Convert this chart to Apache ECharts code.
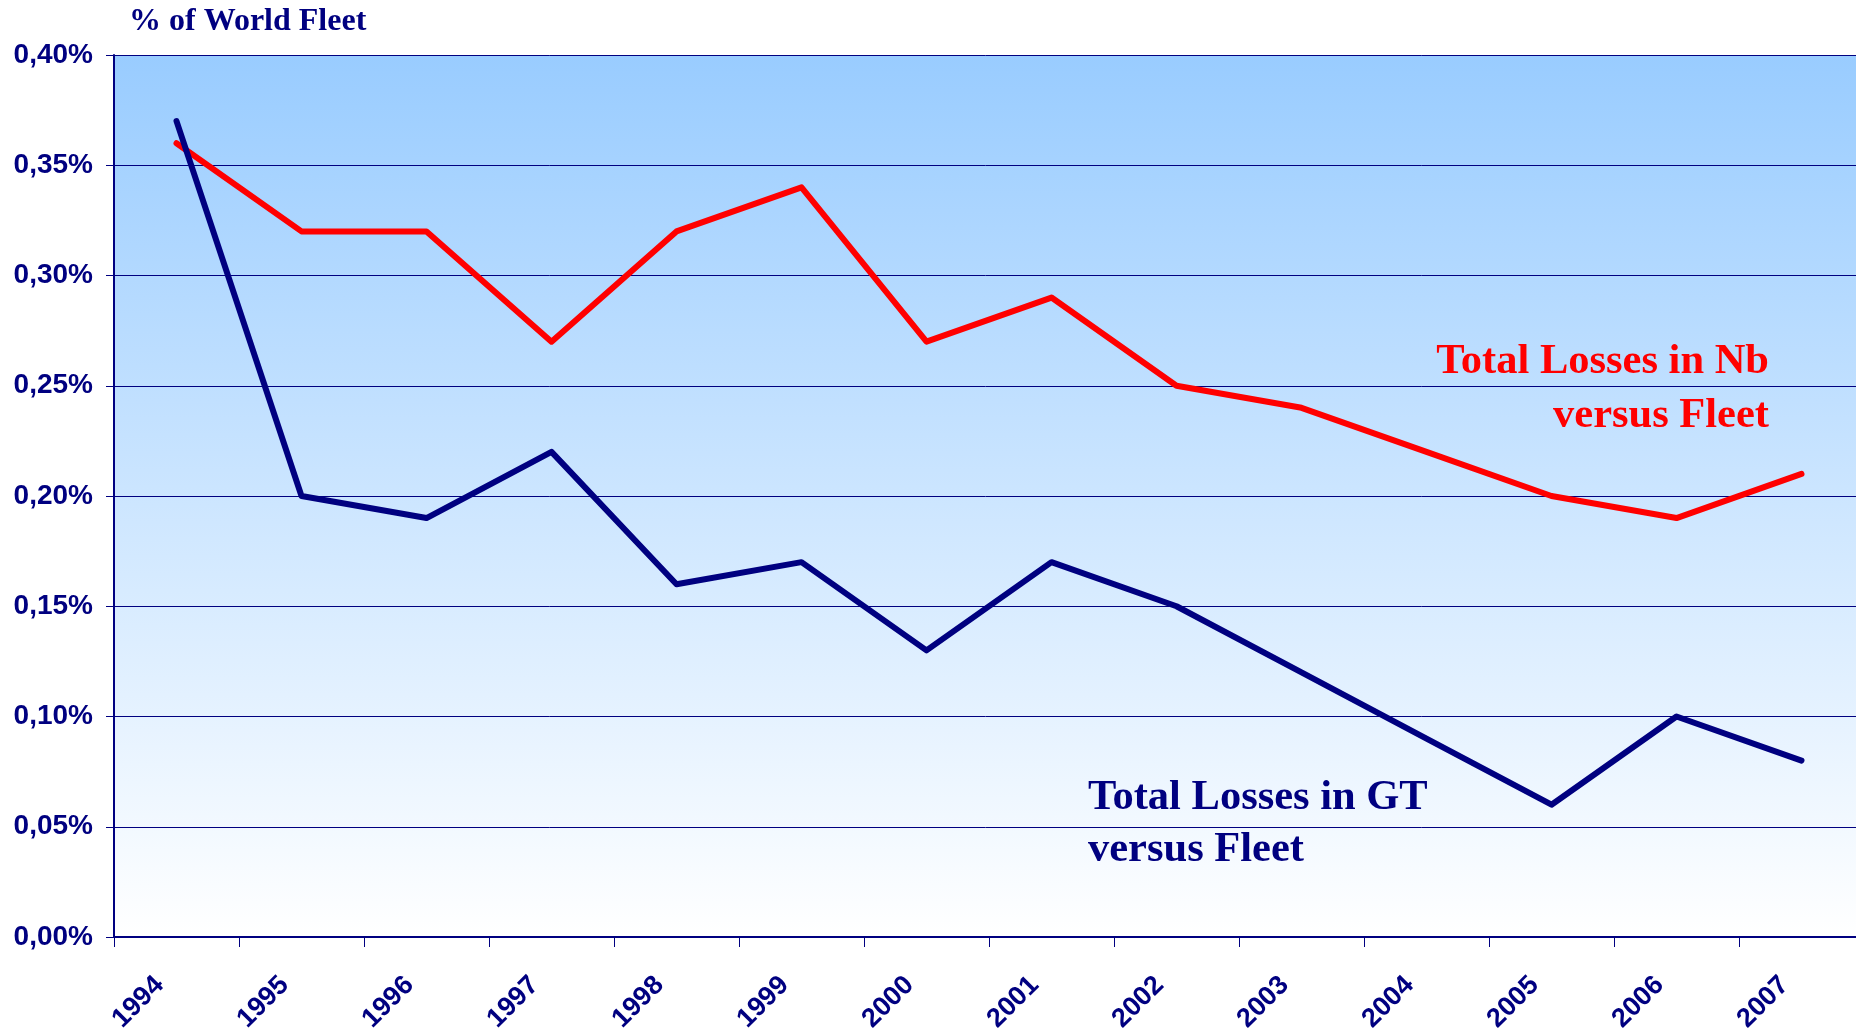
<!DOCTYPE html>
<html>
<head>
<meta charset="utf-8">
<script src="https://cdn.jsdelivr.net/npm/echarts@6/dist/echarts.min.js"></script>
<style>
  html, body { margin: 0; padding: 0; background: #fff; }
  #chart-one { width: 1856px; height: 1033px; }
</style>
</head>
<body>
<div id="chart-one"></div>
<script>
// categories and values (% of world fleet)
var years = ['1994', '1995', '1996', '1997', '1998', '1999', '2000', '2001', '2002', '2003', '2004', '2005', '2006', '2007'];
var lossesNb = [0.36, 0.32, 0.32, 0.27, 0.32, 0.34, 0.27, 0.29, 0.25, 0.24, 0.22, 0.20, 0.19, 0.21];
var lossesGT = [0.37, 0.20, 0.19, 0.22, 0.16, 0.17, 0.13, 0.17, 0.15, 0.12, 0.09, 0.06, 0.10, 0.08];

var navy = '#000080';

var mychart = echarts.init(document.getElementById('chart-one'));

var option = {
	animation: false,
	backgroundColor: '#ffffff',
	grid: {
		left: 114,
		top: 55,
		width: 1750,
		height: 882,
		outerBoundsMode: 'none',
		containLabel: false,
		show: true,
		borderWidth: 0,
		backgroundColor: new echarts.graphic.LinearGradient(0, 0, 0, 1, [
			{ offset: 0, color: '#99ccff' },
			{ offset: 1, color: '#ffffff' }
		])
	},
	xAxis: {
		type: 'category',
		data: years,
		boundaryGap: true,
		axisLine: { show: true, lineStyle: { color: navy, width: 2 } },
		axisTick: { show: true, length: 10, lineStyle: { color: navy, width: 1 } },
		axisLabel: {
			rotate: 45,
			margin: 27,
			padding: [0, 24, 0, 0],
			color: navy,
			fontFamily: 'Liberation Sans',
			fontWeight: 'bold',
			fontSize: 27
		},
		splitLine: { show: false }
	},
	yAxis: {
		type: 'value',
		min: 0,
		max: 0.4,
		interval: 0.05,
		axisLine: { show: true, lineStyle: { color: navy, width: 2 } },
		axisTick: { show: true, length: 8, lineStyle: { color: navy, width: 1 } },
		axisLabel: {
			margin: 21,
			color: navy,
			fontFamily: 'Liberation Sans',
			fontWeight: 'bold',
			fontSize: 28,
			formatter: function (v) { return v.toFixed(2).replace('.', ',') + '%'; }
		},
		splitLine: { show: true, lineStyle: { color: navy, width: 1 } }
	},
	graphic: [
		{
			type: 'text', left: 129, top: 6,
			style: { text: '% of World Fleet', fill: navy, font: 'bold 32px "Liberation Serif"' }
		},
		{
			type: 'text', x: 1769, y: 335,
			style: {
				text: 'Total Losses in Nb\nversus Fleet', fill: '#ff0000',
				font: 'bold 42.5px "Liberation Serif"', align: 'right', verticalAlign: 'top', lineHeight: 54
			}
		},
		{
			type: 'text', x: 1088, y: 772,
			style: {
				text: 'Total Losses in GT\nversus Fleet', fill: navy,
				font: 'bold 42.5px "Liberation Serif"', align: 'left', verticalAlign: 'top', lineHeight: 52
			}
		}
	],
	series: [
		{
			name: 'Total Losses in Nb',
			type: 'line',
			data: lossesNb,
			symbol: 'none',
			lineStyle: { color: '#ff0000', width: 6, cap: 'round', join: 'round' }
		},
		{
			name: 'Total Losses in GT',
			type: 'line',
			data: lossesGT,
			symbol: 'none',
			lineStyle: { color: navy, width: 6, cap: 'round', join: 'round' }
		}
	]
};

mychart.setOption(option);
</script>
</body>
</html>
